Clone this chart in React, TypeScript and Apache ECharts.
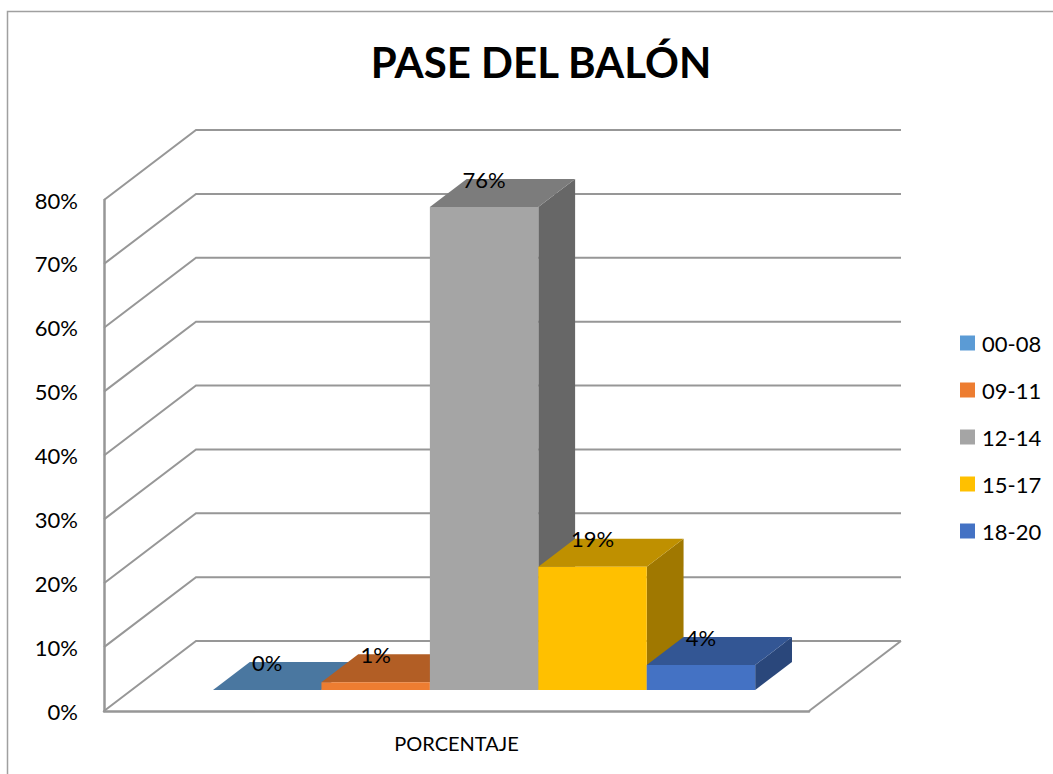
import React, { useEffect, useRef } from "react";
import * as echarts from "echarts";

const titleText = "PASE DEL BALÓN";
const categories = ["PORCENTAJE"];
const seriesNames = ["00-08", "09-11", "12-14", "15-17", "18-20"];
const seriesValues = [0, 0.012, 0.756, 0.193, 0.039];
const frontColors = ["#5B9BD5", "#ED7D31", "#A5A5A5", "#FFC000", "#4472C4"];
const topColors = ["#4A77A0", "#B25E25", "#7C7C7C", "#BF9000", "#335694"];
const sideColors = ["#3F6688", "#9E5320", "#676767", "#A07800", "#2A477B"];
const gridTicks = [0, 0.1, 0.2, 0.3, 0.4, 0.5, 0.6, 0.7, 0.8];

const FONT = "Lato, Carlito, Calibri, 'Noto Sans', sans-serif";
const DEPTH_X = 92;
const DEPTH_Y = 70;
const LINE = "#979797";

function pct(v: number) {
  return Math.round(v * 100) + "%";
}

function renderWall(params: any, api: any) {
  const cs = params.coordSys;
  const v = api.value(1);
  const y = api.coord([0, v])[1];
  const l = cs.x;
  const r = cs.x + cs.width;
  const children: any[] = [
    {
      type: "polyline",
      shape: {
        points: [
          [l, y],
          [l + DEPTH_X, y - DEPTH_Y],
          [r + DEPTH_X, y - DEPTH_Y],
        ],
      },
      style: { stroke: LINE, lineWidth: 2, fill: "none" },
    },
  ];
  if (v === 0) {
    children.push({
      type: "line",
      shape: { x1: r, y1: y, x2: r + DEPTH_X, y2: y - DEPTH_Y },
      style: { stroke: LINE, lineWidth: 2 },
    });
  }
  return { type: "group", children };
}

function makeBarRenderer(i: number) {
  return (_params: any, api: any) => {
    const value = api.value(1);
    const top = api.coord([0, value]);
    const base = api.coord([0, 0]);
    const band = api.size([1, 0])[0];
    const w = band * 0.1538;
    const fx = DEPTH_X * 0.3;
    const fy = DEPTH_Y * 0.3;
    const dx = DEPTH_X * 0.4;
    const dy = DEPTH_Y * 0.4;
    const x0 = base[0] + (i - 2.5) * w + fx;
    const x1 = x0 + w;
    const yb = base[1] - fy;
    const yt = top[1] - fy;
    const children: any[] = [
      {
        type: "polygon",
        shape: { points: [[x1, yb], [x1 + dx, yb - dy], [x1 + dx, yt - dy], [x1, yt]] },
        style: { fill: sideColors[i] },
      },
      {
        type: "polygon",
        shape: { points: [[x0, yt], [x0 + dx, yt - dy], [x1 + dx, yt - dy], [x1, yt]] },
        style: { fill: topColors[i] },
      },
      {
        type: "rect",
        shape: { x: x0, y: yt, width: w, height: yb - yt },
        style: { fill: frontColors[i] },
      },
      {
        type: "text",
        x: (x0 + x1) / 2,
        y: yt - dy,
        z2: 50,
        style: {
          text: pct(value),
          fill: "#000",
          font: `22px ${FONT}`,
          align: "center",
          verticalAlign: "middle",
        },
      },
    ];
    return { type: "group", children };
  };
}

export default function App() {
  const ref = useRef<HTMLDivElement>(null);
  useEffect(() => {
    document.body.style.margin = "0";
    const chart = echarts.init(ref.current!, undefined, { renderer: "svg" });
    chart.setOption({
      animation: false,
      backgroundColor: "#fff",
      title: {
        text: titleText,
        left: 536,
        top: 36,
        textAlign: "center",
        textStyle: { fontFamily: FONT, fontSize: 42, fontWeight: "bold", color: "#000" },
      },
      graphic: [
        {
          type: "polyline",
          shape: { points: [[7.5, 774], [7.5, 11.5], [1053, 11.5]] },
          style: { stroke: "#A0A0A0", lineWidth: 1.5, fill: "none" },
          silent: true,
        },
      ],
      legend: {
        data: seriesNames,
        orient: "vertical",
        left: 955,
        top: 327,
        itemWidth: 15,
        itemHeight: 15,
        itemGap: 25,
        selectedMode: false,
        icon: "rect",
        textStyle: { fontFamily: FONT, fontSize: 22, color: "#000", padding: [0, 0, 0, 2] },
      },
      grid: { left: 104, top: 200, width: 705, height: 511, containLabel: false },
      xAxis: {
        type: "category",
        data: categories,
        axisTick: { show: false },
        axisLine: { show: true, lineStyle: { color: LINE, width: 2.5 } },
        axisLabel: { margin: 22, fontFamily: FONT, fontSize: 20, color: "#000" },
      },
      yAxis: {
        type: "value",
        min: 0,
        max: 0.8,
        interval: 0.1,
        splitLine: { show: false },
        axisTick: { show: false },
        axisLine: { show: true, lineStyle: { color: LINE, width: 2.5 } },
        axisLabel: {
          margin: 26,
          fontFamily: FONT,
          fontSize: 22,
          color: "#000",
          formatter: (v: number) => pct(v),
        },
      },
      series: [
        {
          type: "custom",
          name: "walls",
          silent: true,
          clip: false,
          z: 1,
          renderItem: renderWall,
          data: gridTicks.map((t) => [0, t]),
          encode: { x: 0, y: 1 },
        },
        ...seriesNames.map((name, i) => ({
          type: "custom",
          name,
          z: 2 + i,
          clip: false,
          silent: true,
          itemStyle: { color: frontColors[i] },
          renderItem: makeBarRenderer(i),
          data: [[0, seriesValues[i]]],
          encode: { x: 0, y: 1 },
        })),
      ],
    });
    return () => chart.dispose();
  }, []);
  return (
    <div
      ref={ref}
      style={{ position: "absolute", left: 0, top: 0, width: 1053, height: 774 }}
    />
  );
}
